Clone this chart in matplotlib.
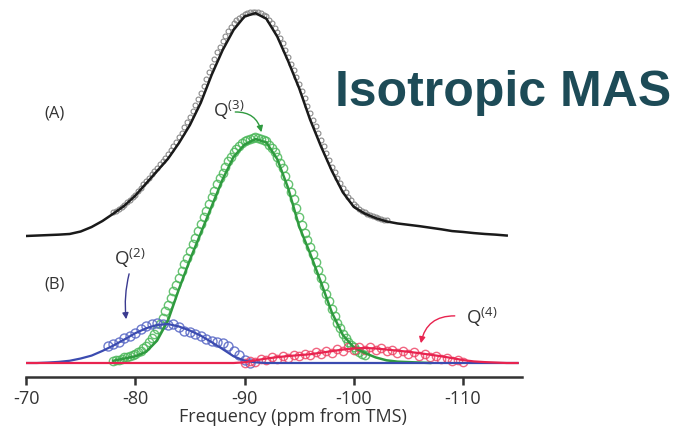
import numpy as np
import matplotlib
matplotlib.use('Agg')
import matplotlib.pyplot as plt
from matplotlib.patches import FancyArrowPatch

plt.rcParams['font.family'] = ['Open Sans', 'DejaVu Sans']
plt.rcParams['axes.unicode_minus'] = False

# chemical shift grids (ppm from TMS): 1 ppm for the fits
ppm_fit = np.arange(-70, -116, -1)
ppm_q3_fit = np.arange(-78, -108, -1)

# (A) total isotropic spectrum, fitted line
a_fit = [0.0, 0.002, 0.004, 0.006, 0.009, 0.02, 0.04, 0.067, 0.10, 0.135,
         0.18, 0.235, 0.29, 0.345, 0.415, 0.495, 0.595, 0.72, 0.83, 0.92,
         0.98, 0.995, 0.97, 0.89, 0.78, 0.66, 0.52, 0.40, 0.29, 0.195,
         0.13, 0.10, 0.08, 0.065, 0.056, 0.05, 0.044, 0.037, 0.03, 0.022,
         0.018, 0.013, 0.009, 0.006, 0.002, -0.004]

# (B) components
q2_fit = [0.0, 0.0, 0.002, 0.005, 0.01, 0.02, 0.033, 0.054, 0.078, 0.105,
          0.133, 0.155, 0.17, 0.174, 0.163, 0.145, 0.122, 0.093, 0.062, 0.03,
          0.01, 0.003, 0.0, 0.0, 0.0, 0.0, 0.0, 0.0, 0.0, 0.0,
          0.0, 0.0, 0.0, 0.0, 0.0, 0.0, 0.0, 0.0, 0.0, 0.0,
          0.0, 0.0, 0.0, 0.0, 0.0, 0.0]
q3_fit = [0.01, 0.02, 0.03, 0.05, 0.10, 0.19, 0.33, 0.46, 0.58, 0.70,
          0.82, 0.92, 0.975, 1.0, 0.985, 0.91, 0.78, 0.61, 0.49, 0.36,
          0.225, 0.125, 0.07, 0.045, 0.025, 0.012, 0.006, 0.004, 0.002, 0.0]
q4_fit = [0.0, 0.0, 0.0, 0.0, 0.0, 0.0, 0.0, 0.0, 0.0, 0.0,
          0.0, 0.0, 0.0, 0.0, 0.0, 0.0, 0.0, 0.0, 0.0, 0.0,
          0.003, 0.012, 0.02, 0.026, 0.031, 0.035, 0.039, 0.046, 0.053, 0.06,
          0.065, 0.067, 0.065, 0.06, 0.055, 0.05, 0.044, 0.037, 0.03, 0.022,
          0.013, 0.007, 0.004, 0.002, 0.0, 0.0]

# measured points, A and Q3 every 0.25 ppm, Q2 and Q4 every 0.5 ppm
a_obs = [0.105, 0.112, 0.12, 0.13, 0.14, 0.15, 0.16, 0.172, 0.185, 0.20,
         0.215, 0.23, 0.245, 0.26, 0.275, 0.29, 0.305, 0.32, 0.335, 0.35,
         0.365, 0.382, 0.40, 0.42, 0.44, 0.462, 0.485, 0.507, 0.53, 0.557,
         0.585, 0.612, 0.64, 0.67, 0.70, 0.73, 0.76, 0.79, 0.82, 0.845,
         0.87, 0.893, 0.915, 0.933, 0.95, 0.963, 0.975, 0.983, 0.99, 0.996,
         1.0, 1.001, 1.0, 0.998, 0.995, 0.988, 0.98, 0.966, 0.95, 0.93,
         0.91, 0.886, 0.86, 0.83, 0.80, 0.77, 0.74, 0.71, 0.68, 0.647,
         0.615, 0.582, 0.55, 0.52, 0.49, 0.46, 0.43, 0.40, 0.37, 0.34,
         0.31, 0.285, 0.26, 0.237, 0.215, 0.195, 0.175, 0.16, 0.145, 0.132,
         0.12, 0.112, 0.105, 0.10, 0.095, 0.09, 0.085, 0.081, 0.077, 0.073,
         0.07]
ppm_a_obs = -78 - 0.25 * np.arange(len(a_obs))

q3_obs = [0.01, 0.012, 0.015, 0.02, 0.025, 0.027, 0.03, 0.035, 0.04, 0.047,
          0.055, 0.065, 0.075, 0.092, 0.11, 0.13, 0.15, 0.175, 0.20, 0.23,
          0.26, 0.29, 0.32, 0.35, 0.38, 0.41, 0.44, 0.47, 0.50, 0.53,
          0.56, 0.59, 0.62, 0.65, 0.68, 0.71, 0.74, 0.77, 0.80, 0.825,
          0.85, 0.875, 0.90, 0.92, 0.94, 0.955, 0.97, 0.98, 0.99, 0.995,
          1.0, 1.005, 1.01, 1.005, 1.0, 0.995, 0.99, 0.975, 0.96, 0.94,
          0.92, 0.895, 0.87, 0.835, 0.80, 0.765, 0.73, 0.69, 0.65, 0.615,
          0.58, 0.55, 0.52, 0.485, 0.45, 0.415, 0.38, 0.345, 0.31, 0.275,
          0.24, 0.21, 0.18, 0.155, 0.13, 0.112, 0.095, 0.082, 0.07, 0.06,
          0.05, 0.042, 0.035]
ppm_q3_obs = -78 - 0.25 * np.arange(len(q3_obs))

q2_obs = [0.075, 0.085, 0.095, 0.11, 0.12, 0.135, 0.15, 0.165, 0.175, 0.178,
          0.172, 0.17, 0.175, 0.16, 0.145, 0.14, 0.13, 0.12, 0.105, 0.10,
          0.095, 0.09, 0.075, 0.055, 0.035, 0.015, 0.0]
ppm_q2_obs = -77.5 - 0.5 * np.arange(len(q2_obs))

q4_obs = [0.0, 0.01, 0.005, 0.018, 0.012, 0.025, 0.02, 0.03, 0.024, 0.036,
          0.03, 0.042, 0.034, 0.048, 0.04, 0.055, 0.046, 0.062, 0.052, 0.07,
          0.058, 0.072, 0.06, 0.07, 0.058, 0.066, 0.052, 0.06, 0.045, 0.054,
          0.04, 0.047, 0.033, 0.04, 0.026, 0.03, 0.018, 0.022, 0.01, 0.012,
          0.003]
ppm_q4_obs = -90 - 0.5 * np.arange(len(q4_obs))

A_OFFSET = 0.567

fig = plt.figure(figsize=(6.79, 4.27), dpi=100)
ax = fig.add_axes([26 / 679, 49 / 427, 496 / 679, 378 / 427])

black = '#1a1a1a'
green = '#2f9a3f'
blue = '#3b4bb0'
red = '#e8234f'

# (A)
ax.plot(ppm_a_obs, np.array(a_obs) + A_OFFSET, 'o', ms=3.5, mfc='none',
        mec='#8a8a8a', mew=0.8)
ax.plot(ppm_fit[:-1], np.array(a_fit[:-1]) + A_OFFSET, color=black, lw=1.8)

# (B)
ax.plot(ppm_q3_obs, q3_obs, 'o', ms=6, mfc='none', mec='#4cb85a', mew=1.0, alpha=0.85)
ax.plot(ppm_q2_obs, q2_obs, 'o', ms=6.5, mfc='none', mec='#5565c4', mew=1.0, alpha=0.85)
ax.plot(ppm_q4_obs, q4_obs, 'o', ms=6, mfc='none', mec='#ee3f62', mew=1.0, alpha=0.8)
ax.plot(ppm_q3_fit, q3_fit, color=green, lw=1.8)
ax.plot(ppm_fit, q2_fit, color=blue, lw=1.6)
ax.plot(ppm_fit, q4_fit, color=red, lw=1.6)

ax.set_xlim(-70, -115.4)
ax.set_ylim(-0.0625, 1.625)
ax.set_yticks([])
for side in ['left', 'top', 'right']:
    ax.spines[side].set_visible(False)
ax.spines['bottom'].set_color('#333333')
ax.spines['bottom'].set_linewidth(1.8)
ax.set_xticks([-70, -80, -90, -100, -110])
ax.tick_params(axis='x', direction='out', length=6, width=1.8, color='#333333',
               labelsize=13, labelcolor='#333333', pad=3)
ax.set_xlabel('Frequency (ppm from TMS)', fontsize=13, color='#333333', va='bottom')
ax.xaxis.set_label_coords(0.538, -0.126)

ax.text(-71.7, 1.12, '(A)', fontsize=12, color='#333333', va='center')
ax.text(-71.7, 0.353, '(B)', fontsize=12, color='#333333', va='center')

# peak labels with curved arrows
ax.text(-87.1, 1.134, 'Q$^{\\mathregular{(3)}}$', fontsize=13.5, color='#333333', va='center')
ax.add_patch(FancyArrowPatch((-88.9, 1.12), (-91.6, 1.018), connectionstyle='arc3,rad=-0.45',
                             arrowstyle='-|>', mutation_scale=9, color=green, lw=1.0))
ax.text(-78.1, 0.473, 'Q$^{\\mathregular{(2)}}$', fontsize=13.5, color='#333333', va='center')
ax.add_patch(FancyArrowPatch((-79.5, 0.41), (-79.2, 0.183), connectionstyle='arc3,rad=0.1',
                             arrowstyle='-|>', mutation_scale=9, color='#3a3a90', lw=1.0))
ax.text(-110.3, 0.21, 'Q$^{\\mathregular{(4)}}$', fontsize=13.5, color='#333333', va='center')
ax.add_patch(FancyArrowPatch((-109.5, 0.21), (-106.1, 0.076), connectionstyle='arc3,rad=0.45',
                             arrowstyle='-|>', mutation_scale=9, color=red, lw=1.0))

fig.text(335 / 679, (427 - 106) / 427, 'Isotropic MAS', fontsize=36, fontweight='bold',
         family='Liberation Sans', color='#1d4b57', va='baseline')

fig.savefig('out.png', dpi=100)
